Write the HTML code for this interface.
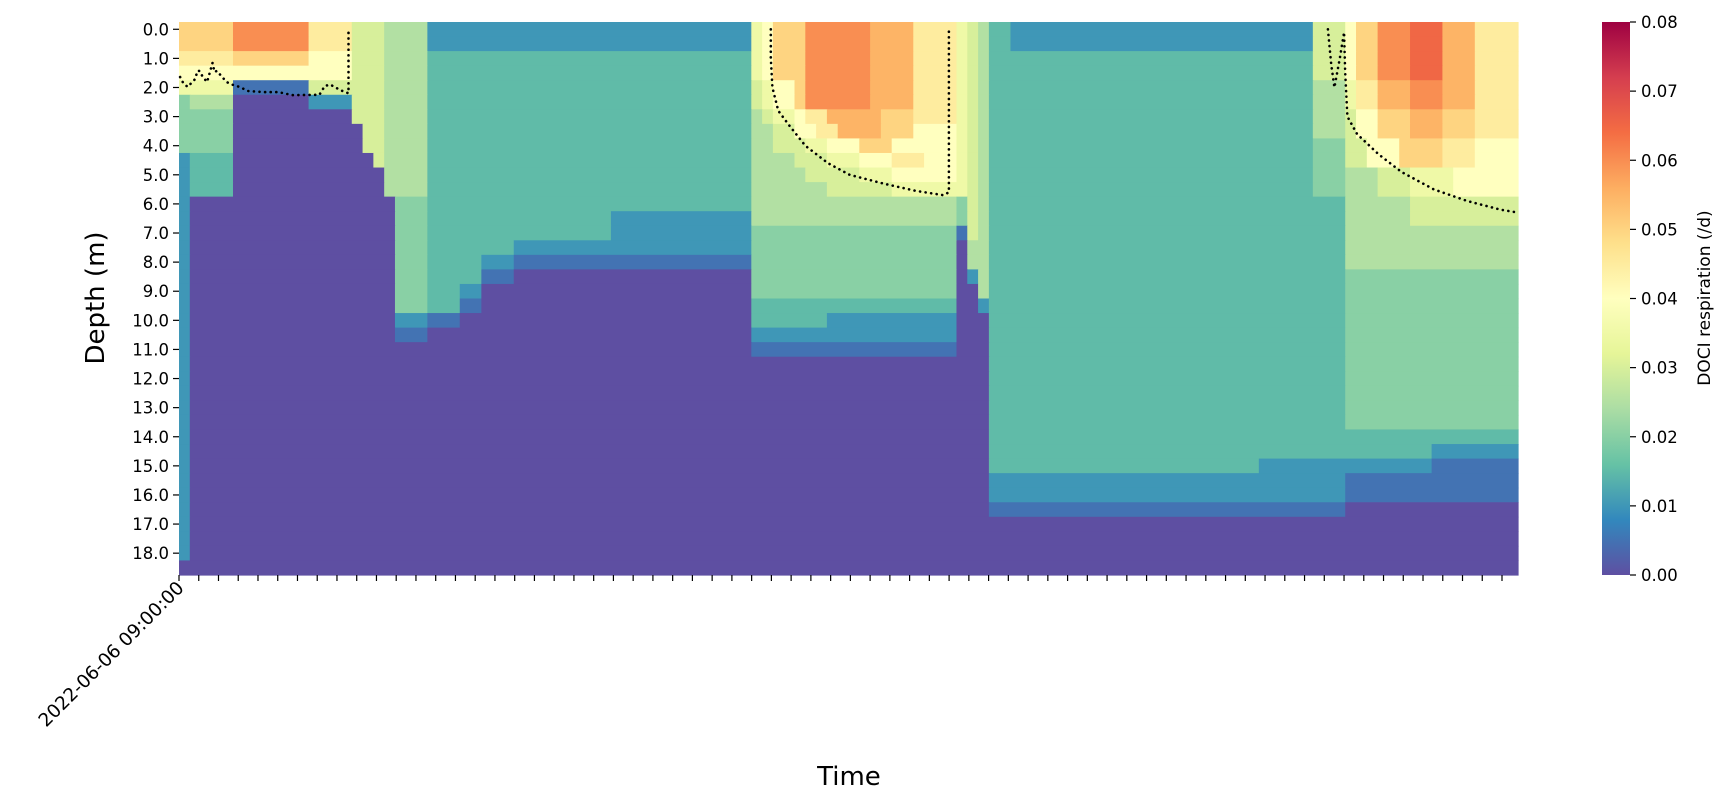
<!DOCTYPE html>
<html><head><meta charset="utf-8"><style>
html,body{margin:0;padding:0;background:#fff;}
svg{display:block;font-family:"DejaVu Sans","Liberation Sans",sans-serif;}
</style></head><body>
<svg id="chart" width="1729" height="806" viewBox="0 0 1729 806" xmlns="http://www.w3.org/2000/svg">
<defs>
<linearGradient id="cbgrad" x1="0" y1="1" x2="0" y2="0">
<stop offset="0" stop-color="#5e4fa2"/><stop offset="0.1" stop-color="#3288bd"/><stop offset="0.2" stop-color="#66c2a5"/><stop offset="0.3" stop-color="#abdda4"/><stop offset="0.4" stop-color="#e6f598"/><stop offset="0.5" stop-color="#ffffbf"/><stop offset="0.6" stop-color="#fee08b"/><stop offset="0.7" stop-color="#fdae61"/><stop offset="0.8" stop-color="#f46d43"/><stop offset="0.9" stop-color="#d53e4f"/><stop offset="1" stop-color="#9e0142"/>
</linearGradient>
</defs>
<g id="cells"></g>
<g id="mld"></g>
<g id="yaxis"></g>
<g id="xaxis"></g>
<text x="0" y="0" transform="translate(104,298) rotate(-90)" text-anchor="middle" font-size="26" fill="#000">Depth (m)</text>
<text x="849" y="785" text-anchor="middle" font-size="26" fill="#000">Time</text>
<g id="colorbar">
<rect x="1602" y="22" width="28" height="553" fill="url(#cbgrad)"/>
</g>
<text x="0" y="0" transform="translate(1710,298) rotate(-90)" text-anchor="middle" font-size="17" fill="#000">DOCI respiration  (/d)</text>
</svg>
<script>
// ---- data ----
const depthTicks = ["0.0","1.0","2.0","3.0","4.0","5.0","6.0","7.0","8.0","9.0","10.0","11.0","12.0","13.0","14.0","15.0","16.0","17.0","18.0"];
const colorTicks = ["0.00","0.01","0.02","0.03","0.04","0.05","0.06","0.07","0.08"];
const colorValues = [0,0.01,0.02,0.03,0.04,0.05,0.06,0.07,0.08];
const xTickLabels = ["2022-06-06 09:00:00"];
const nXTicks = 68;
// run-length rows: first char = value code (units of 0.005), rest = count
const segA = ["a5 c7 94","a5 c7 94","95 a7 84","816","75 17 64","41 54 07 24","41 44 011","41 44 011","41 44 011","21 34 011","21 34 011","21 34 011",
"21 015","21 015","21 015","21 015","21 015","21 015","21 015","21 015","21 015","21 015","21 015","21 015","21 015","21 015","21 015","21 015","21 015","21 015","21 015","21 015","21 015","21 015","21 015","21 015","21 015","016"];
const segB = ["63 54 230","63 54 230","63 54 330","63 54 330","63 54 330","63 54 330","63 54 330","01 62 54 330","01 62 54 330","02 61 54 330","03 54 330","03 54 330",
"04 43 330","04 43 317 213","04 43 317 213","04 43 38 222","04 43 35 23 122","04 43 35 13 022","04 43 33 22 025","04 43 33 12 025","04 23 13 027","04 13 030",
"037","037","037","037","037","037","037","037","037","037","037","037","037","037","037","037"];
const segC = ["71 81 a3 c6 b4 94","71 81 a3 c6 b4 94","71 81 a3 c6 b4 94","71 81 a3 c6 b4 94","61 71 82 a1 c6 b4 94","61 71 82 a1 c6 b4 94",
"51 61 72 81 92 b5 a3 94","52 62 82 92 b4 a3 84","52 63 72 83 a3 86","54 63 73 83 93 83","55 65 73 86","57 66 76","519","519",
"419","419","419","419","419","319","37 212","219","119","019","019","019","019","019","019","019","019","019","019","019","019","019","019","019"];
const segC2 = ["71 61 51","71 61 51","71 61 51","71 61 51","71 61 51","71 61 51","71 61 51","71 61 51","71 61 51","71 61 51","71 61 51","71 61 51",
"41 61 51","41 61 51","11 61 51","01 51 51","01 51 51","01 21 51","02 51","02 21","03","03","03","03","03","03","03","03","03","03","03","03","03","03","03","03","03","03"];
const segD = ["32 228 63","32 228 63","330 63","330 63","330 53","330 53","330 53","330 53","330 43","330 43","330 43","330 43",
"333","333","333","333","333","333","333","333","333","333","333","333","333","333","333","333","333","333","325 28","233","233","133","033","033","033","033"];
const segE = ["81 a2 c3 d3 b3 94","81 a2 c3 d3 b3 94","81 a2 c3 d3 b3 94","81 a2 c3 d3 b3 94","71 92 b3 c3 b3 94","71 92 b3 c3 b3 94","61 82 a3 b3 a3 94","61 82 a3 b3 a3 94",
"62 83 a4 93 84","62 83 a4 93 84","53 63 74 86","53 63 74 86","56 64 66","56 64 66","516","516","516","416","416","416","416","416","416","416","416","416","416","416",
"316","38 28","28 18","116","116","016","016","016","016","016"];
// mixed layer depth line (column position, depth m); null = gap
const mldCol = [0.1,0.4,0.8,1.5,1.7,1.9,2.2,2.6,3.1,3.3,3.5,4.0,4.4,5.0,5.6,6.4,7.8,9.2,10.5,13.0,13.5,14.0,15.0,15.7,15.7,null,
54.8,54.8,54.95,55.5,56.5,58.0,60.1,62.1,65.2,68.2,70.8,71.3,71.3,null,
106.4,106.7,107.0,107.5,107.9,108.0,108.2,109.1,111.1,113.2,116.2,119.3,122.4,124.0];
const mldDepth = [1.64,1.85,1.98,1.71,1.43,1.43,1.64,1.81,1.16,1.47,1.43,1.64,1.81,1.91,1.98,2.12,2.16,2.16,2.26,2.25,1.95,1.9,2.1,2.2,0.0,null,
0.0,1.0,2.0,2.8,3.3,4.0,4.6,5.0,5.3,5.55,5.7,5.6,0.0,null,
0.0,1.2,2.0,1.0,0.1,1.5,3.0,3.6,4.3,4.9,5.5,5.9,6.2,6.3];

// ---- scales ----
const X0=179, X1=1518, Y0=22, Y1=575, NC=124, NR=38;
const cw=(X1-X0)/NC, rh=(Y1-Y0)/NR;
const xCol = c => X0 + c*cw;
const yRow = r => Y0 + r*rh;
const yDepth = d => Y0 + (d/0.5 + 0.5)*rh;
const yColor = v => Y1 - (v/0.08)*(Y1-Y0);
const stops=["#5e4fa2","#3288bd","#66c2a5","#abdda4","#e6f598","#ffffbf","#fee08b","#fdae61","#f46d43","#d53e4f","#9e0142"];
function hex(h){return [parseInt(h.substr(1,2),16),parseInt(h.substr(3,2),16),parseInt(h.substr(5,2),16)];}
function cmap(v){let t=Math.max(0,Math.min(1,v/0.08))*10;let i=Math.min(9,Math.floor(t));let f=t-i;
 const a=hex(stops[i]),b=hex(stops[i+1]);return "rgb("+a.map((x,k)=>Math.round(x+(b[k]-x)*f)).join(",")+")";}
function decode(s){const out=[];s.trim().split(/\s+/).forEach(tok=>{const v=parseInt(tok[0],17)*0.005;const n=parseInt(tok.slice(1));for(let i=0;i<n;i++)out.push(v);});return out;}
const NS="http://www.w3.org/2000/svg";
function mk(tag,attrs,parent){const e=document.createElementNS(NS,tag);for(const k in attrs)e.setAttribute(k,attrs[k]);parent.appendChild(e);return e;}

// ---- cells ----
const cells=document.getElementById("cells");
for(let r=0;r<NR;r++){
 const row=[].concat(decode(segA[r]),decode(segB[r]),decode(segC[r]),decode(segC2[r]),decode(segD[r]),decode(segE[r]));
 let c=0;
 while(c<row.length){let e=c;while(e+1<row.length&&row[e+1]===row[c])e++;
  const rect=mk("rect",{x:xCol(c).toFixed(2),y:yRow(r).toFixed(2),width:(xCol(e+1)-xCol(c)+0.6).toFixed(2),height:(rh+0.6).toFixed(2),fill:cmap(row[c])},cells);
  
  
  c=e+1;}
}
// ---- mld line ----
const mld=document.getElementById("mld");
let d="",pen=false;
for(let i=0;i<mldCol.length;i++){
 if(mldCol[i]===null){pen=false;continue;}
 d+=(pen?"L":"M")+xCol(mldCol[i]).toFixed(1)+","+yDepth(mldDepth[i]).toFixed(1)+" ";pen=true;}
const path=mk("path",{d:d,fill:"none",stroke:"#000","stroke-width":"2.6","stroke-dasharray":"0.1 5.5","stroke-linecap":"round"},mld);



// ---- y axis ----
const ya=document.getElementById("yaxis");
depthTicks.forEach((lab,i)=>{const y=yRow(i*2+0.5);
 const t=mk("line",{x1:X0-6,x2:X0,y1:y,y2:y,stroke:"#000","stroke-width":1.2},ya);
 
 
 const tx=mk("text",{x:X0-10,y:y+6,"text-anchor":"end","font-size":"16.5",fill:"#000"},ya);
 tx.textContent=lab;
 
 
});
// ---- x axis ----
const xa=document.getElementById("xaxis");
const xStep=(1502-X0)/(nXTicks-1);
for(let i=0;i<nXTicks;i++){const x=X0+i*xStep;
 const t=mk("line",{x1:x,x2:x,y1:Y1,y2:Y1+6,stroke:"#000","stroke-width":1.2},xa);
 
 
 if(xTickLabels[i]){const tx=mk("text",{x:0,y:0,"text-anchor":"end","font-size":"18.5",fill:"#000",transform:"translate("+(x+6)+","+(Y1+14)+") rotate(-45)"},xa);
  tx.textContent=xTickLabels[i];
  
  }
}
// ---- colorbar ticks ----
const cb=document.getElementById("colorbar");
colorTicks.forEach((lab,i)=>{const y=yColor(colorValues[i]);
 const t=mk("line",{x1:1630,x2:1636,y1:y,y2:y,stroke:"#000","stroke-width":1.2},cb);
 
 
 const tx=mk("text",{x:1641,y:y+6,"font-size":"16.5",fill:"#000"},cb);
 tx.textContent=lab;
 
 
});
</script>
</body></html>
